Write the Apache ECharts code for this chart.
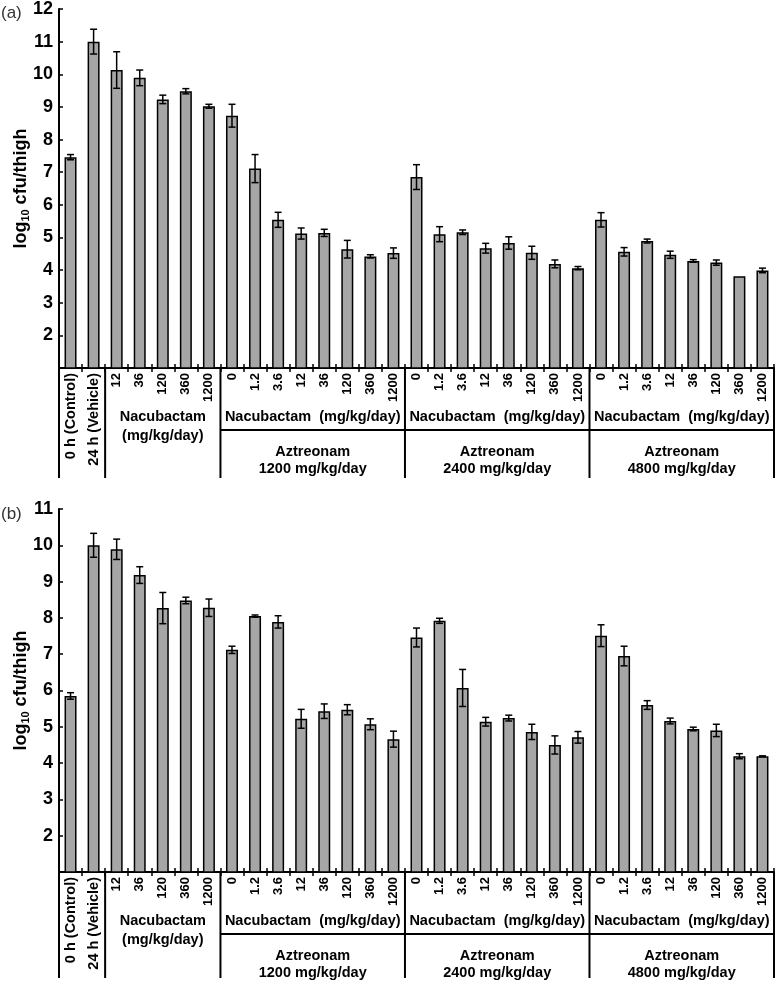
<!DOCTYPE html>
<html>
<head>
<meta charset="utf-8">
<script src="https://cdn.jsdelivr.net/npm/echarts@6/dist/echarts.min.js"></script>
<style>
html,body{margin:0;padding:0;background:#fff;}
#chart{width:777px;height:985px;}
</style>
</head>
<body>
<div id="chart"></div>
<script>
// ---------- data ----------
const categories = ['0 h (Control)', '24 h (Vehicle)',
  '12', '36', '120', '360', '1200',
  '0', '1.2', '3.6', '12', '36', '120', '360', '1200',
  '0', '1.2', '3.6', '12', '36', '120', '360', '1200',
  '0', '1.2', '3.6', '12', '36', '120', '360', '1200'];

const meanA = [7.46, 11.0, 10.13, 9.89, 9.23, 9.48, 9.02,
  8.73, 7.11, 5.54, 5.12, 5.14, 4.64, 4.42, 4.52,
  6.85, 5.10, 5.16, 4.67, 4.83, 4.53, 4.19, 4.06,
  5.54, 4.56, 4.89, 4.47, 4.28, 4.23, 3.81, 3.99];
const errA = [0.08, 0.38, 0.56, 0.24, 0.13, 0.08, 0.06,
  0.35, 0.43, 0.23, 0.17, 0.11, 0.27, 0.05, 0.16,
  0.38, 0.23, 0.07, 0.15, 0.19, 0.20, 0.12, 0.05,
  0.22, 0.13, 0.06, 0.11, 0.04, 0.08, 0.00, 0.07];

const meanB = [5.85, 10.0, 9.89, 9.18, 8.27, 8.48, 8.28,
  7.12, 8.05, 7.89, 5.22, 5.43, 5.47, 5.07, 4.66,
  7.46, 7.92, 6.07, 5.14, 5.24, 4.86, 4.50, 4.71,
  7.51, 6.95, 5.60, 5.16, 4.94, 4.90, 4.19, 4.19];
const errB = [0.09, 0.33, 0.28, 0.23, 0.43, 0.09, 0.24,
  0.10, 0.03, 0.17, 0.26, 0.20, 0.14, 0.15, 0.22,
  0.26, 0.07, 0.51, 0.12, 0.08, 0.21, 0.25, 0.16,
  0.30, 0.27, 0.12, 0.08, 0.05, 0.17, 0.07, 0.01];

const yRangeA = [1, 12];
const yRangeB = [1, 11];

const groupFirst = [2, 7, 15, 23];
const groupLast = [6, 14, 22, 30];
const groupSubLabels = ['Nacubactam\n(mg/kg/day)', 'Nacubactam  (mg/kg/day)', 'Nacubactam  (mg/kg/day)', 'Nacubactam  (mg/kg/day)'];
const groupMainLabels = ['', 'Aztreonam\n1200 mg/kg/day', 'Aztreonam\n2400 mg/kg/day', 'Aztreonam\n4800 mg/kg/day'];
const panelLabels = ['(a)', '(b)'];

// ---------- styling ----------
const FONT = '"Liberation Sans", Arial, sans-serif';

function errRender(params, api) {
  const x = api.value(0);
  const lo = api.coord([x, api.value(1)]);
  const hi = api.coord([x, api.value(2)]);
  if (Math.abs(lo[1] - hi[1]) < 0.5) return null;
  const c = 3.5;
  const st = {stroke: '#000', lineWidth: 1.5};
  return {type: 'group', children: [
    {type: 'line', shape: {x1: lo[0], y1: lo[1], x2: hi[0], y2: hi[1]}, style: st},
    {type: 'line', shape: {x1: lo[0] - c, y1: lo[1], x2: lo[0] + c, y2: lo[1]}, style: st},
    {type: 'line', shape: {x1: hi[0] - c, y1: hi[1], x2: hi[0] + c, y2: hi[1]}, style: st}
  ]};
}

function tableRender(yMin, lineLen) {
  return function (params, api) {
    const p0 = api.coord([0, yMin]);
    const p1 = api.coord([1, yMin]);
    const bw = p1[0] - p0[0];
    const x0 = p0[0], y0 = p0[1];
    const xb = b => x0 + b * bw;
    const st = {stroke: '#000', lineWidth: 2};
    const children = [];
    const bounds = [-0.5, groupFirst[0] - 0.5].concat(groupLast.map(g => g + 0.5));
    bounds.forEach(b => children.push({type: 'line', shape: {x1: xb(b), y1: y0, x2: xb(b), y2: y0 + lineLen}, style: st}));
    children.push({type: 'line', shape: {x1: xb(groupFirst[1] - 0.5), y1: y0 + 62, x2: xb(groupLast[groupLast.length - 1] + 0.5), y2: y0 + 62}, style: st});
    groupFirst.forEach((f, gi) => {
      const cx = (xb(f - 0.5) + xb(groupLast[gi] + 0.5)) / 2;
      const hasMain = groupMainLabels[gi] !== '';
      children.push({type: 'text', style: {
        text: groupSubLabels[gi], x: cx, y: y0 + (hasMain ? 48.5 : 58),
        align: 'center', verticalAlign: 'middle',
        fontSize: 14.5, fontWeight: 'bold', fontFamily: FONT, lineHeight: 19, fill: '#000'}});
      if (hasMain) {
        children.push({type: 'text', style: {
          text: groupMainLabels[gi], x: cx, y: y0 + 92,
          align: 'center', verticalAlign: 'middle',
          fontSize: 14.5, fontWeight: 'bold', fontFamily: FONT, lineHeight: 17, fill: '#000'}});
      }
    });
    return {type: 'group', children};
  };
}

const grids = [
  {left: 59, top: 6, width: 715, height: 362},
  {left: 59, top: 509, width: 715, height: 363}
];

function xAxes(gi) {
  return [
    {type: 'category', gridIndex: gi, data: categories, position: 'bottom',
      axisLine: {lineStyle: {color: '#000', width: 2}},
      axisTick: {show: true, inside: false, length: 4, interval: 0, lineStyle: {color: '#000', width: 1.5}},
      axisLabel: {interval: 0, rotate: 90, margin: 5, color: '#000', fontSize: 13, fontWeight: 'bold', fontFamily: FONT,
        formatter: (v, i) => i < 2 ? '{w|' + v + '}' : v,
        rich: {w: {fontSize: 14.5, fontWeight: 'bold', fontFamily: FONT, color: '#000'}}}
    },
    {type: 'category', gridIndex: gi, data: categories, position: 'bottom',
      axisLine: {show: false},
      axisTick: {show: true, inside: true, length: 4, interval: 0, lineStyle: {color: '#000', width: 1.5}},
      axisLabel: {show: false}
    }
  ];
}

function yAxis(gi, range) {
  return {type: 'value', gridIndex: gi, min: range[0], max: range[1], interval: 1,
    splitLine: {show: false},
    axisLine: {show: true, lineStyle: {color: '#000', width: 2}},
    axisTick: {show: true, inside: true, length: 4, lineStyle: {color: '#000', width: 1.5}},
    axisLabel: {color: '#000', fontSize: 18, fontWeight: 'bold', fontFamily: FONT, margin: 6,
      formatter: v => v === range[0] ? '' : String(v)},
    name: '{a|log}{s|10}{a| cfu/thigh}',
    nameLocation: 'middle', nameRotate: 90, nameGap: 26, nameMoveOverlap: false,
    nameTextStyle: {rich: {
      a: {fontSize: 18, fontWeight: 'bold', fontFamily: FONT, color: '#000', lineHeight: 24},
      s: {fontSize: 11, fontWeight: 'bold', fontFamily: FONT, color: '#000', padding: [9, 0, 0, 0]}
    }}
  };
}

function panelSeries(gi, mean, err, range, lineLen) {
  return [
    {type: 'bar', xAxisIndex: gi * 2, yAxisIndex: gi, data: mean, barWidth: '52%',
      itemStyle: {color: '#a6a6a6', borderColor: '#000', borderWidth: 1.5}, silent: true, z: 2},
    {type: 'custom', xAxisIndex: gi * 2, yAxisIndex: gi, renderItem: errRender, silent: true, z: 3,
      data: mean.map((m, i) => [i, m - err[i], m + err[i]])},
    {type: 'custom', xAxisIndex: gi * 2, yAxisIndex: gi, renderItem: tableRender(range[0], lineLen),
      clip: false, silent: true, z: 4, data: [[0, range[0]]]}
  ];
}

const chart = echarts.init(document.getElementById('chart'), null, {renderer: 'canvas'});
chart.setOption({
  animation: false,
  backgroundColor: '#fff',
  grid: grids,
  xAxis: xAxes(0).concat(xAxes(1)),
  yAxis: [yAxis(0, yRangeA), yAxis(1, yRangeB)],
  title: [
    {text: panelLabels[0], left: 1, top: 5, textStyle: {fontSize: 17, fontWeight: 'normal', fontFamily: FONT, color: '#333'}, padding: 0},
    {text: panelLabels[1], left: 1, top: 506, textStyle: {fontSize: 17, fontWeight: 'normal', fontFamily: FONT, color: '#333'}, padding: 0}
  ],
  series: panelSeries(0, meanA, errA, yRangeA, 110).concat(panelSeries(1, meanB, errB, yRangeB, 106))
});
</script>
</body>
</html>
